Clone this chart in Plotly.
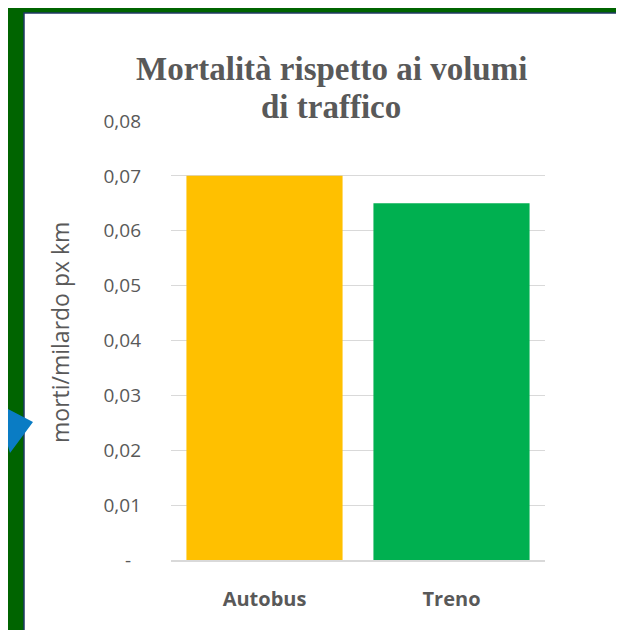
import plotly.graph_objects as go

categories = ['Autobus', 'Treno']
mortality = [0.070, 0.065]
bar_colors = ['#FFC000', '#00B050']
tick_vals = [0, 0.01, 0.02, 0.03, 0.04, 0.05, 0.06, 0.07, 0.08]
tick_text = ['-\u00a0\u00a0', '0,01', '0,02', '0,03', '0,04', '0,05', '0,06', '0,07', '0,08']

# the page puts the figure 8px in from the top-left corner
OFF = 8
W, H = 624 - OFF, 630 - OFF
L, R, T, B = 171 - OFF, 79, 121 - OFF, 70
PW, PH = W - L - R, H - T - B


def px(x, y):
    # screen pixel position -> paper coordinates
    return (x - OFF - L) / PW, (H - B - (y - OFF)) / PH


grey = '#595959'

fig = go.Figure(go.Bar(
    x=categories, y=mortality,
    marker=dict(color=bar_colors, line=dict(width=0)),
))

# frame: green outside, white panel with navy edge
x0, y1 = px(24, 13)
x1, y0 = px(640, 640)
gx0, gy1 = px(0, 0)
shapes = [
    dict(type='rect', xref='paper', yref='paper', x0=gx0, y0=y0, x1=x1, y1=gy1,
         fillcolor='#006400', line=dict(width=0), layer='below'),
    dict(type='rect', xref='paper', yref='paper', x0=x0, y0=y0, x1=x1, y1=y1,
         fillcolor='white', line=dict(color='#1F3864', width=1.5), layer='below'),
]

arrow_pts = [(0, 405), (33, 422), (10, 453), (6, 439), (0, 444)]
path = 'M ' + ' L '.join(f'{px(a, b)[0]:.4f},{px(a, b)[1]:.4f}' for a, b in arrow_pts) + ' Z'
shapes.append(dict(type='path', xref='paper', yref='paper', path=path,
                   fillcolor='#0A7CC4', line=dict(width=0), layer='above'))

tx, _ = px(331, 0)
annotations = [
    dict(text='<b>Mortalità rispetto ai volumi</b>', xref='paper', yref='paper',
         x=tx, y=px(0, 69)[1], xanchor='center', yanchor='middle', showarrow=False,
         font=dict(family='Liberation Serif', size=33, color=grey)),
    dict(text='<b>di traffico</b>', xref='paper', yref='paper',
         x=tx, y=px(0, 107)[1], xanchor='center', yanchor='middle', showarrow=False,
         font=dict(family='Liberation Serif', size=33, color=grey)),
    dict(text='morti/milardo px km', xref='paper', yref='paper',
         x=px(60, 0)[0], y=px(0, 332)[1], xanchor='center', yanchor='middle',
         textangle=-90, showarrow=False,
         font=dict(family='Open Sans', size=23, color=grey)),
]

fig.update_layout(
    width=W, height=H,
    margin=dict(l=L, r=R, t=T, b=B),
    paper_bgcolor='white', plot_bgcolor='rgba(0,0,0,0)',
    font=dict(family='Open Sans', color=grey),
    bargap=0.165,
    showlegend=False,
    shapes=shapes,
    annotations=annotations,
    xaxis=dict(
        range=[-0.5, 1.5],
        showline=True, linecolor='#D9D9D9', linewidth=1.5,
        tickfont=dict(family='Open Sans', size=20, color=grey, weight='bold'),
        ticklabelstandoff=20,
        showgrid=False,
    ),
    yaxis=dict(
        range=[0, 0.08],
        tickvals=tick_vals, ticktext=tick_text,
        tickfont=dict(family='Open Sans', size=19, color=grey),
        ticklabelstandoff=29,
        showgrid=True, gridcolor='#D9D9D9', gridwidth=1,
        zeroline=False, showline=False,
    ),
)

fig.write_html("out.html")
